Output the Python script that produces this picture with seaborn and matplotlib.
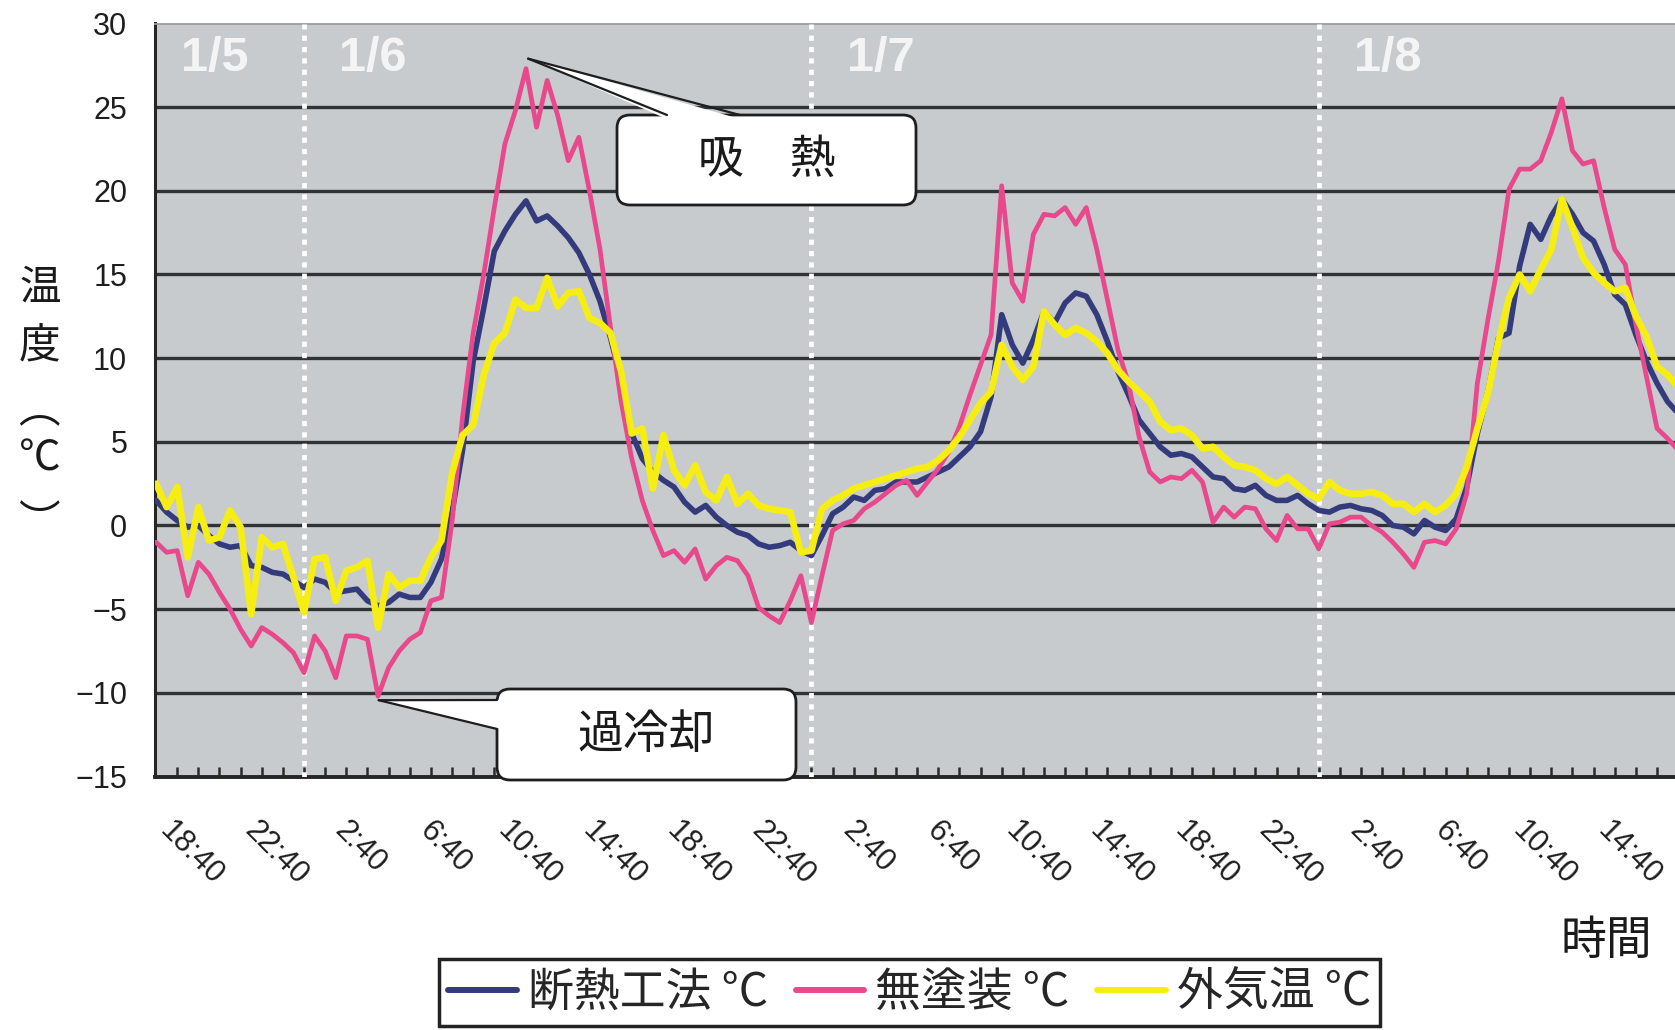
import numpy as np
import pandas as pd
import seaborn as sns
import matplotlib
matplotlib.use("Agg")
import matplotlib.pyplot as plt
from matplotlib import font_manager
from matplotlib.patches import FancyBboxPatch, Polygon
from matplotlib.lines import Line2D
from matplotlib.transforms import IdentityTransform

# readings every 30 min, starting 1/5 17:00 (hours counted from 1/5 0:00)
start_hour = 17.0
step_hour = 0.5

# 断熱工法
insulated = [
    1.5, 0.8, 0.3, -0.1, 0.0, -0.6, -1.1, -1.3, -1.2, -2.4, -2.5, -2.8,
    -2.9, -3.3, -3.7, -3.2, -3.4, -4.0, -3.9, -3.8, -4.5, -4.8, -4.6, -4.1,
    -4.3, -4.3, -3.4, -2.0, 0.8, 4.5, 9.8, 13.0, 16.4, 17.6, 18.6, 19.4,
    18.2, 18.5, 17.9, 17.2, 16.3, 15.0, 13.4, 11.2, 8.7, 5.5, 4.0, 3.2,
    2.7, 2.3, 1.4, 0.8, 1.2, 0.5, 0.0, -0.4, -0.6, -1.1, -1.3, -1.2,
    -1.0, -1.5, -1.8, -0.6, 0.7, 1.1, 1.7, 1.5, 2.1, 2.2, 2.6, 2.6,
    2.6, 2.9, 3.2, 3.5, 4.1, 4.7, 5.6, 7.7, 12.6, 10.8, 9.7, 11.1,
    12.8, 12.1, 13.3, 13.9, 13.7, 12.6, 11.0, 9.2, 7.8, 6.3, 5.5, 4.7,
    4.2, 4.3, 4.1, 3.5, 2.9, 2.8, 2.2, 2.1, 2.4, 1.8, 1.5, 1.5,
    1.8, 1.3, 0.9, 0.8, 1.1, 1.2, 1.0, 0.9, 0.6, 0.0, -0.1, -0.5,
    0.3, -0.1, -0.3, 0.4, 2.3, 5.5, 8.0, 11.2, 11.5, 15.5, 18.0, 17.1,
    18.5, 19.5, 18.6, 17.5, 17.0, 15.6, 13.8, 13.2, 11.4, 9.8, 8.5, 7.4,
    6.7,
]

# 無塗装
uncoated = [
    -1.0, -1.6, -1.5, -4.2, -2.2, -2.9, -4.0, -5.0, -6.2, -7.2, -6.1, -6.5,
    -7.0, -7.6, -8.8, -6.6, -7.5, -9.1, -6.6, -6.6, -6.8, -10.2, -8.5, -7.5,
    -6.8, -6.4, -4.5, -4.3, 0.2, 6.5, 11.5, 15.0, 19.0, 22.8, 24.8, 27.3,
    23.8, 26.6, 24.5, 21.8, 23.2, 20.0, 16.5, 11.8, 7.4, 4.0, 1.5, -0.3,
    -1.8, -1.5, -2.2, -1.4, -3.2, -2.4, -1.9, -2.1, -3.0, -4.9, -5.4, -5.8,
    -4.5, -3.0, -5.8, -3.0, -0.3, 0.1, 0.3, 1.0, 1.4, 1.9, 2.4, 2.7,
    1.8, 2.6, 3.4, 4.4, 5.9, 7.8, 9.6, 11.4, 20.3, 14.5, 13.4, 17.4,
    18.6, 18.5, 19.0, 18.0, 19.0, 16.5, 13.5, 10.5, 8.5, 5.3, 3.2, 2.6,
    2.9, 2.8, 3.3, 2.6, 0.2, 1.1, 0.5, 1.1, 1.0, -0.2, -0.9, 0.6,
    -0.2, -0.2, -1.4, 0.1, 0.2, 0.5, 0.5, 0.0, -0.4, -1.0, -1.7, -2.5,
    -1.0, -0.9, -1.1, -0.2, 1.9, 8.5, 12.3, 15.8, 20.1, 21.3, 21.3, 21.8,
    23.5, 25.5, 22.4, 21.6, 21.8, 19.0, 16.5, 15.6, 12.0, 8.9, 5.8, 5.2,
    4.5,
]

# 外気温
outdoor = [
    2.5, 1.1, 2.3, -1.9, 1.1, -0.9, -0.7, 0.9, -0.1, -5.3, -0.7, -1.3,
    -1.1, -3.1, -5.2, -2.0, -1.9, -4.5, -2.7, -2.5, -2.1, -6.1, -2.9, -3.7,
    -3.3, -3.3, -1.9, -0.9, 3.1, 5.4, 6.0, 9.0, 10.9, 11.5, 13.5, 13.0,
    13.0, 14.8, 13.1, 13.9, 14.0, 12.4, 12.1, 11.5, 9.2, 5.5, 5.8, 2.2,
    5.4, 3.3, 2.4, 3.6, 2.0, 1.5, 2.9, 1.3, 1.9, 1.2, 1.0, 0.9,
    0.8, -1.6, -1.5, 1.0, 1.5, 1.8, 2.2, 2.4, 2.6, 2.8, 3.0, 3.2,
    3.4, 3.5, 3.9, 4.5, 5.3, 6.3, 7.3, 8.0, 10.8, 9.5, 8.7, 9.5,
    12.8, 12.0, 11.4, 11.8, 11.5, 11.0, 10.3, 9.3, 8.6, 8.0, 7.4, 6.2,
    5.7, 5.8, 5.4, 4.6, 4.7, 4.1, 3.6, 3.5, 3.3, 2.8, 2.5, 2.9,
    2.4, 1.9, 1.6, 2.6, 2.1, 1.9, 1.9, 2.0, 1.8, 1.3, 1.3, 0.8,
    1.3, 0.8, 1.2, 1.9, 3.5, 5.8, 7.9, 11.0, 13.6, 15.0, 14.0, 15.3,
    16.5, 19.5, 17.8, 16.0, 15.1, 14.5, 14.0, 14.2, 12.5, 11.3, 9.5, 9.0,
    8.3,
]

series_names = ["断熱工法 °C", "無塗装 °C", "外気温 °C"]
series_colors = ["#343b7d", "#e8498d", "#f6ee12"]

xtick_hours = [18 + 40/60 + 4*k for k in range(18)]
xtick_labels = ["18:40", "22:40", "2:40", "6:40", "10:40", "14:40",
                "18:40", "22:40", "2:40", "6:40", "10:40", "14:40",
                "18:40", "22:40", "2:40", "6:40", "10:40", "14:40"]
yticks = [-15, -10, -5, 0, 5, 10, 15, 20, 25, 30]
ytick_labels = ["−15", "−10", "−5", "0", "5", "10", "15", "20", "25", "30"]

day_starts = [24, 48, 72]
day_labels = ["1/5", "1/6", "1/7", "1/8"]
day_label_x = [18.2, 25.67, 49.67, 73.65]

hours = start_hour + step_hour*np.arange(len(outdoor))
df = pd.DataFrame({"hour": hours, series_names[0]: insulated,
                   series_names[1]: uncoated, series_names[2]: outdoor})

sns.set_style("white")
plt.rcParams["font.family"] = ["Noto Sans CJK JP", "DejaVu Sans"]
installed = {f.name for f in font_manager.fontManager.ttflist}
NARROW = "Liberation Sans Narrow" if "Liberation Sans Narrow" in installed else "Liberation Sans"

W, H = 1675, 1030
fig = plt.figure(figsize=(W/100, H/100), dpi=100)
fig.patch.set_facecolor("white")
ax = fig.add_axes([155/W, 1 - 776.5/H, 1520/W, 753/H])
ax.set_facecolor("#c8cbcd")

widths = [4.0, 3.4, 4.8]
for i, name in enumerate(series_names):
    sns.lineplot(data=df, x="hour", y=name, ax=ax, color=series_colors[i],
                 zorder=4 + i, legend=False, errorbar=None)
for line, w in zip(ax.lines, widths):
    line.set_linewidth(w)
    line.set_solid_joinstyle("round")

ax.set_xlim(16.95, 88.85)
ax.set_ylim(-15, 30)
ax.set_xlabel("")
ax.set_ylabel("")
ax.set_axisbelow(True)

ax.set_yticks(yticks, labels=ytick_labels, fontfamily=NARROW, fontsize=22)
ax.tick_params(axis="y", left=False, length=0, pad=20, colors="#1e1e1e")
ax.set_xticks(xtick_hours, labels=xtick_labels, rotation=-45, ha="center",
              va="top", fontfamily=NARROW, fontsize=22)
ax.set_xticks(np.arange(18, 89), minor=True)
ax.tick_params(axis="x", which="major", bottom=True, length=0, pad=28,
               labelcolor="#1e1e1e")
ax.tick_params(axis="x", which="minor", bottom=True, direction="in",
               length=7, width=1.8, color="#2a2a2a")

ax.grid(axis="y", color="#2f3335", lw=2.4)
ax.grid(axis="x", visible=False)
grid = ax.get_ygridlines()
grid[0].set_visible(False)
grid[-1].set_visible(False)

for s in ["left", "bottom"]:
    ax.spines[s].set_color("#262626")
ax.spines["left"].set_linewidth(2.2)
ax.spines["bottom"].set_linewidth(2.8)
ax.spines["top"].set_color("#9c9c9c")
ax.spines["top"].set_linewidth(1.3)
ax.spines["right"].set_visible(False)

for d in day_starts:
    ax.axvline(d, color="white", lw=3.4, ls=(0, (1.1, 1.3)), zorder=3)
for lx, lab in zip(day_label_x, day_labels):
    ax.text(lx, 27.9, lab, color="#f4f4f4", fontsize=35, fontweight="bold",
            fontfamily="Liberation Sans", ha="left", va="center", zorder=3)

# callout boxes (pixel coordinates, y from top)
ident = IdentityTransform()


def callout(box, tip, base, text):
    x0, y0, x1, y1 = box
    tx, ty = ax.transData.transform(tip)
    patch = FancyBboxPatch((x0, H - y1), x1 - x0, y1 - y0,
                           boxstyle="round,pad=0,rounding_size=13",
                           facecolor="white", edgecolor="#1e1e1e", lw=2.0,
                           transform=ident, zorder=11)
    fig.add_artist(patch)
    (bx1, by1), (bx2, by2), inward = base
    fill = Polygon([(tx, ty), (bx1 + inward[0], H - by1 - inward[1]),
                    (bx2 + inward[0], H - by2 - inward[1])],
                   closed=True, facecolor="white", edgecolor="none",
                   transform=ident, zorder=12)
    fig.add_artist(fill)
    for bx, by in [(bx1, by1), (bx2, by2)]:
        fig.add_artist(Line2D([tx, bx], [ty, H - by], color="#1e1e1e", lw=1.6,
                              transform=ident, zorder=13))
    fig.text((x0 + x1)/2/W, 1 - (y0 + y1)/2/H, text, fontsize=33,
             ha="center", va="center", color="#1a1a1a", zorder=14)


callout((617, 115, 916, 205), (34.6, 27.9),
        ((667, 115), (740, 115), (0, 4)), "吸　熱")
callout((497, 689, 796, 780), (27.53, -10.44),
        ((497, 700), (497, 729), (4, 0)), "過冷却")

# y label, stacked vertically
ylab_chars = ["温", "度", "︵", "℃", "︶"]
ylab_y = [288, 347, 411, 459, 523]
for ch, yy in zip(ylab_chars, ylab_y):
    fig.text(40/W, 1 - yy/H, ch, fontsize=30, ha="center", va="center",
             color="#1a1a1a")

fig.text(1606/W, 1 - 941/H, "時間", fontsize=33, ha="center", va="center",
         color="#1a1a1a")

handles = [Line2D([], [], color=c, lw=4.3) for c in series_colors]
leg = fig.legend(handles, series_names, loc="center",
                 bbox_to_anchor=(909.5/W, 1 - 992.5/H), ncol=3, fontsize=33,
                 frameon=True, fancybox=False, edgecolor="#222222",
                 framealpha=1, handlelength=1.5, handletextpad=0.24,
                 columnspacing=0.6, borderpad=0.2)
leg.get_frame().set_linewidth(2.5)

fig.savefig("out.png", dpi=100, facecolor="white")
